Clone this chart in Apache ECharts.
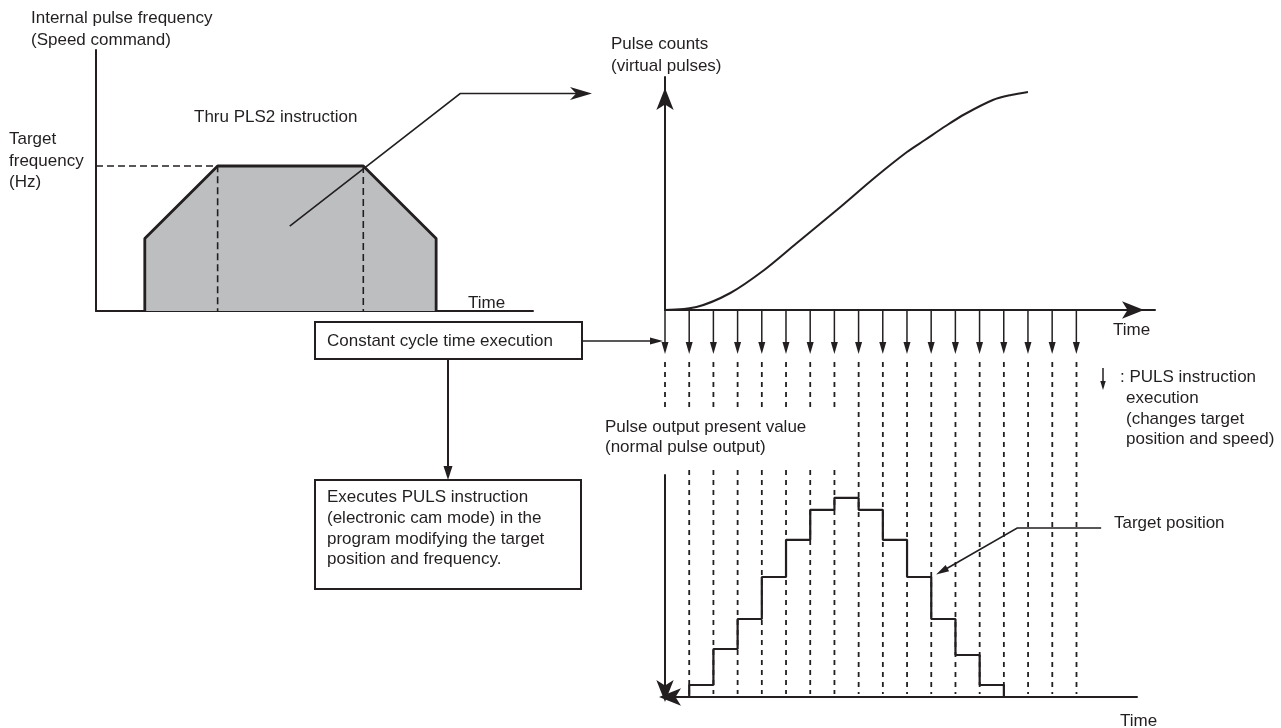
<!DOCTYPE html>
<html><head><meta charset="utf-8">
<script src="https://cdn.jsdelivr.net/npm/echarts@6/dist/echarts.min.js"></script>
<style>html,body{margin:0;padding:0;background:#fff}#c{width:1281px;height:728px}</style>
</head><body><div id="c"></div>
<script>
// ---------- data ----------
// Internal pulse frequency (speed command) profile of the PLS2 instruction
const speedTimes = [0.67, 0.67, 1.67, 3.67, 4.67, 4.67];
const speedFreqs = [0, 50, 100, 100, 50, 0];
const targetFrequency = 100;
// Pulse counts (virtual pulses), time in control cycles
const countCycles = [0, 1.3, 2.7, 4.1, 5.4, 7.1, 8.7, 10.0, 10.74, 11.6, 12.4, 13.55, 14.3, 15];
const countValues = [0, 3, 17, 40, 66, 100, 133, 158, 170, 184, 196, 210, 215, 218];
// PULS instruction executions (one per constant cycle)
const pulsCycles = [0, 1, 2, 3, 4, 5, 6, 7, 8, 9, 10, 11, 12, 13, 14, 15, 16, 17];
// Pulse output present value (target position held during each cycle)
const outputCycles = [0, 1, 2, 3, 4, 5, 6, 7, 8, 9, 10, 11, 12, 13, 14];
const outputValues = [0, 1, 4, 6.5, 10, 13.1, 15.6, 16.6, 15.6, 13.1, 10, 6.5, 3.5, 1, 0];
// annotation anchor points (data coordinates)
const pls2Pointer = [[2.66, 58.6], [5.0, 150], [6.81, 150]];
const targetPointer = [[18.02, 14.08], [14.55, 14.08], [11.2, 10.2]];

// ---------- styles ----------
const INK = '#231f20';
const GRAY = '#bcbec0';
const FONT = "'Liberation Sans', Arial, Helvetica, sans-serif";
const FS = 17;

const chart = echarts.init(document.getElementById('c'));
const noDecor = {axisTick: {show: false}, axisLabel: {show: false}, splitLine: {show: false}};
function axLine(extra) {
  return Object.assign({show: true, onZero: false, lineStyle: {color: INK, width: 2}}, extra || {});
}

const option = {
  animation: false,
  backgroundColor: '#fff',
  grid: [
    {left: 96, top: 50, width: 437, height: 261, outerBoundsMode: 'none'},
    {left: 665, top: 77, width: 490, height: 233, outerBoundsMode: 'none'},
    {left: 665, top: 475, width: 472, height: 222, outerBoundsMode: 'none'}
  ],
  xAxis: [
    Object.assign({gridIndex: 0, type: 'value', min: 0, max: 6, axisLine: axLine()}, noDecor),
    Object.assign({gridIndex: 1, type: 'value', min: 0, max: 20.25,
      axisLine: axLine({symbol: ['none', 'arrow'], symbolSize: [13, 22], symbolOffset: [0, -11]})}, noDecor),
    Object.assign({gridIndex: 2, type: 'value', min: 0, max: 19.5,
      axisLine: axLine({symbol: ['arrow', 'none'], symbolSize: [13, 22], symbolOffset: [-6, 0]})}, noDecor)
  ],
  yAxis: [
    Object.assign({gridIndex: 0, type: 'value', min: 0, max: 180, axisLine: axLine()}, noDecor),
    Object.assign({gridIndex: 1, type: 'value', min: 0, max: 233,
      axisLine: axLine({symbol: ['none', 'arrow'], symbolSize: [13, 22], symbolOffset: [0, -11]})}, noDecor),
    Object.assign({gridIndex: 2, type: 'value', min: 0, max: 18.5,
      axisLine: axLine({symbol: ['arrow', 'none'], symbolSize: [13, 22], symbolOffset: [-5, 0]})}, noDecor)
  ],
  series: [
    {
      name: 'Speed command', type: 'line', xAxisIndex: 0, yAxisIndex: 0, z: 2,
      data: speedTimes.map((t, i) => [t, speedFreqs[i]]),
      symbol: 'none', lineStyle: {color: INK, width: 2.8},
      areaStyle: {color: GRAY, opacity: 1}
    },
    {
      name: 'Accel guide', type: 'line', xAxisIndex: 0, yAxisIndex: 0, z: 3, symbol: 'none',
      data: [[0, targetFrequency], [speedTimes[2], targetFrequency], [speedTimes[2], 0]],
      lineStyle: {color: INK, width: 1.6, type: [7, 4]}
    },
    {
      name: 'Decel guide', type: 'line', xAxisIndex: 0, yAxisIndex: 0, z: 3, symbol: 'none',
      data: [[speedTimes[3], targetFrequency], [speedTimes[3], 0]],
      lineStyle: {color: INK, width: 1.6, type: [7, 4]}
    },
    {
      name: 'Pulse counts', type: 'line', xAxisIndex: 1, yAxisIndex: 1, z: 3,
      data: countCycles.map((c, i) => [c, countValues[i]]),
      symbol: 'none', smooth: 0.3,
      lineStyle: {color: INK, width: 2}
    },
    {
      name: 'PULS execution', type: 'custom', xAxisIndex: 1, yAxisIndex: 1, z: 4,
      data: pulsCycles.map(c => [c, 0]),
      renderItem: function (params, api) {
        const p = api.coord([api.value(0), api.value(1)]);
        const x = p[0], y0 = p[1], tip = y0 + 44, hl = 12, hw = 3.5;
        return {type: 'group', children: [
          {type: 'line', shape: {x1: x, y1: y0, x2: x, y2: tip - hl + 2}, style: {stroke: INK, lineWidth: 1.5}},
          {type: 'polygon', shape: {points: [[x - hw, tip - hl], [x + hw, tip - hl], [x, tip]]}, style: {fill: INK}}
        ]};
      }
    },
    {
      name: 'Cycle guides', type: 'custom', xAxisIndex: 2, yAxisIndex: 2, z: 2,
      data: pulsCycles.map(c => [c, 0]),
      renderItem: function (params, api) {
        const i = api.value(0);
        const p = api.coord([i, 0]);
        const x = p[0], base = p[1];
        const DASH_TOP = 362, GAP_TOP = 407, GAP_BOTTOM = 470, GAP_COLS = 8;
        const segs = [];
        if (i >= GAP_COLS) segs.push([DASH_TOP, base - 3]);
        else {
          segs.push([DASH_TOP, GAP_TOP]);
          if (i > 0) segs.push([GAP_BOTTOM, base - 3]);
        }
        return {type: 'group', children: segs.map(s => ({
          type: 'line', shape: {x1: x, y1: s[0], x2: x, y2: s[1]},
          style: {stroke: INK, lineWidth: 1.8, lineDash: [5, 5]}
        }))};
      }
    },
    {
      name: 'Pulse output present value', type: 'line', step: 'end', xAxisIndex: 2, yAxisIndex: 2, z: 5,
      data: outputCycles.map((c, i) => [c, outputValues[i]]),
      symbol: 'none', lineStyle: {color: INK, width: 2.2}
    }
  ]
};
chart.setOption(option);

// ---------- annotations ----------
function arrow(points, len, w, lw, notch) {
  const n = points.length, tip = points[n - 1], prev = points[n - 2];
  const dx = tip[0] - prev[0], dy = tip[1] - prev[1], d = Math.hypot(dx, dy);
  const ux = dx / d, uy = dy / d;
  const bx = tip[0] - ux * len, by = tip[1] - uy * len;
  const k = notch ? 0.72 : 1;
  const nx = tip[0] - ux * len * k, ny = tip[1] - uy * len * k;
  const line = points.slice(0, n - 1).concat([[tip[0] - ux * len * 0.6, tip[1] - uy * len * 0.6]]);
  const head = notch
    ? [tip, [bx - uy * w / 2, by + ux * w / 2], [nx, ny], [bx + uy * w / 2, by - ux * w / 2]]
    : [tip, [bx - uy * w / 2, by + ux * w / 2], [bx + uy * w / 2, by - ux * w / 2]];
  return [
    {type: 'polyline', shape: {points: line}, style: {stroke: INK, lineWidth: lw, fill: null}, z: 6},
    {type: 'polygon', shape: {points: head}, style: {fill: INK}, z: 6}
  ];
}
function text(s, x, y) {
  return {type: 'text', x: x, y: y, z: 10,
    style: {text: s, fill: INK, fontSize: FS, fontFamily: FONT, verticalAlign: 'middle', align: 'left'}};
}
const pA = pls2Pointer.map(p => chart.convertToPixel({gridIndex: 0}, p));
const pT = targetPointer.map(p => chart.convertToPixel({gridIndex: 2}, p));

const labels = [
  ['Internal pulse frequency', 31, 18], ['(Speed command)', 31, 40],
  ['Target', 9, 139], ['frequency', 9, 161], ['(Hz)', 9, 182],
  ['Thru PLS2 instruction', 194, 117],
  ['Time', 468, 303],
  ['Pulse counts', 611, 44], ['(virtual pulses)', 611, 66],
  ['Time', 1113, 330],
  [': PULS instruction', 1120, 377], ['execution', 1126, 398],
  ['(changes target', 1126, 419], ['position and speed)', 1126, 439],
  ['Pulse output present value', 605, 427], ['(normal pulse output)', 605, 447],
  ['Target position', 1114, 523],
  ['Time', 1120, 721],
  ['Constant cycle time execution', 327, 341],
  ['Executes PULS instruction', 327, 497], ['(electronic cam mode) in the', 327, 518],
  ['program modifying the target', 327, 539], ['position and frequency.', 327, 559]
];

const graphics = [
  {type: 'rect', shape: {x: 315, y: 322, width: 267, height: 37}, style: {fill: '#fff', stroke: INK, lineWidth: 2}, z: 5},
  {type: 'rect', shape: {x: 315, y: 480, width: 266, height: 109}, style: {fill: '#fff', stroke: INK, lineWidth: 2}, z: 5}
]
  .concat(arrow([[582, 341], [663, 341]], 13, 7, 1.6, false))
  .concat(arrow([[448, 359], [448, 480]], 14, 9, 2, false))
  .concat(arrow([[1103, 368], [1103, 390]], 9, 5.5, 1.5, false))
  .concat(arrow(pA, 22, 13, 1.6, true))
  .concat(arrow(pT, 13, 7, 1.6, false))
  .concat(labels.map(l => text(l[0], l[1], l[2])));

chart.setOption({graphic: {elements: graphics}});
</script>
</body></html>
